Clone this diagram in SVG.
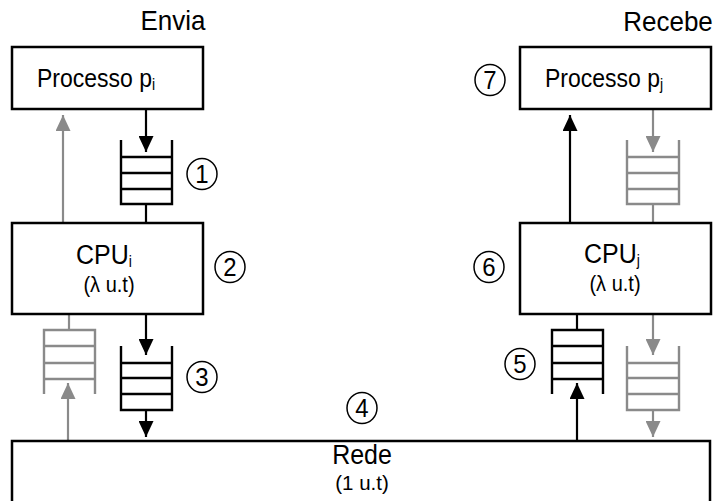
<svg xmlns="http://www.w3.org/2000/svg" width="716" height="501" viewBox="0 0 716 501">
  <style>
    .box { fill: #fff; stroke: #000; stroke-width: 2.5; }
    .lbl { font-family: "Liberation Sans", Arial, sans-serif; fill: #000; }
    .q { fill: none; stroke-width: 2.4; }
    .qk { stroke: #000; }
    .qg { stroke: #8a8a8a; }
    .ln { fill: none; stroke-width: 2.2; }
    .k { stroke: #000; }
    .g { stroke: #8a8a8a; }
    .num { fill: none; stroke: #000; stroke-width: 1.5; }
  </style>
  <defs>
    <marker id="ahK" viewBox="0 0 16 15" refX="16" refY="7.5" markerWidth="16" markerHeight="15" markerUnits="userSpaceOnUse" orient="auto">
      <path d="M0,0 L16,7.5 L0,15 z" fill="#000"/>
    </marker>
    <marker id="ahG" viewBox="0 0 16 15" refX="16" refY="7.5" markerWidth="16" markerHeight="15" markerUnits="userSpaceOnUse" orient="auto">
      <path d="M0,0 L16,7.5 L0,15 z" fill="#8a8a8a"/>
    </marker>
  </defs>

  <!-- headings -->
  <text class="lbl" transform="translate(173,30) scale(1,1.08)" font-size="26" text-anchor="middle">Envia</text>
  <text class="lbl" transform="translate(668,31) scale(1,1.08)" font-size="26" text-anchor="middle">Recebe</text>

  <!-- connectors -->
  <g id="connectors">
    <!-- sender side -->
    <line class="ln k" x1="146" y1="109" x2="146" y2="152" marker-end="url(#ahK)"/>
    <line class="ln k" x1="146" y1="204" x2="146" y2="223"/>
    <line class="ln g" x1="63" y1="223" x2="63" y2="115" marker-end="url(#ahG)"/>
    <line class="ln k" x1="146" y1="315" x2="146" y2="355" marker-end="url(#ahK)"/>
    <line class="ln k" x1="146" y1="410" x2="146" y2="437" marker-end="url(#ahK)"/>
    <line class="ln g" x1="69" y1="315" x2="69" y2="330"/>
    <line class="ln g" x1="68" y1="441" x2="68" y2="383" marker-end="url(#ahG)"/>
    <!-- receiver side -->
    <line class="ln k" x1="570" y1="223" x2="570" y2="115" marker-end="url(#ahK)"/>
    <line class="ln g" x1="653" y1="109" x2="653" y2="152" marker-end="url(#ahG)"/>
    <line class="ln g" x1="653" y1="204" x2="653" y2="223"/>
    <line class="ln k" x1="577" y1="315" x2="577" y2="330"/>
    <line class="ln k" x1="577" y1="441" x2="577" y2="383" marker-end="url(#ahK)"/>
    <line class="ln g" x1="653" y1="315" x2="653" y2="355" marker-end="url(#ahG)"/>
    <line class="ln g" x1="653" y1="410" x2="653" y2="437" marker-end="url(#ahG)"/>
  </g>

  <!-- process nodes -->
  <g id="proc-i">
    <rect class="box" x="12" y="47" width="191" height="62"/>
    <text class="lbl" transform="translate(37,87) scale(1,1.12)" font-size="23">Processo p<tspan font-size="14" dy="3">i</tspan></text>
  </g>
  <g id="proc-j">
    <rect class="box" x="520" y="47" width="191" height="62"/>
    <text class="lbl" transform="translate(545,87) scale(1,1.12)" font-size="23">Processo p<tspan font-size="14" dy="3">j</tspan></text>
  </g>

  <!-- CPU nodes -->
  <g id="cpu-i">
    <rect class="box" x="12" y="223" width="191" height="91"/>
    <text class="lbl" transform="translate(76,264) scale(1,1.12)" font-size="25">CPU<tspan font-size="14" dy="3">i</tspan></text>
    <text class="lbl" transform="translate(109,292) scale(1,1.1)" font-size="20" text-anchor="middle">(λ u.t)</text>
  </g>
  <g id="cpu-j">
    <rect class="box" x="520" y="223" width="191" height="91"/>
    <text class="lbl" transform="translate(584,263) scale(1,1.12)" font-size="25">CPU<tspan font-size="14" dy="3">j</tspan></text>
    <text class="lbl" transform="translate(615,291) scale(1,1.1)" font-size="20" text-anchor="middle">(λ u.t)</text>
  </g>

  <!-- network -->
  <g id="rede">
    <rect class="box" x="12" y="441" width="698" height="80"/>
    <text class="lbl" transform="translate(362,464) scale(1,1.1)" font-size="25" text-anchor="middle">Rede</text>
    <text class="lbl" x="362" y="490" font-size="20.5" text-anchor="middle">(1 u.t)</text>
  </g>

  <!-- queues: open end faces incoming arrow -->
  <g id="queue-send-app" class="q qk">
    <path d="M121,140 V204 H172 V140 M121,157 H172 M121,173 H172 M121,189 H172"/>
  </g>
  <g id="queue-send-net" class="q qk">
    <path d="M121,346 V410 H172 V346 M121,363 H172 M121,378 H172 M121,394 H172"/>
  </g>
  <g id="queue-recv-in" class="q qg">
    <path d="M44,394 V330 H95 V394 M44,346 H95 M44,363 H95 M44,379 H95"/>
  </g>
  <g id="queue-recv-net" class="q qk">
    <path d="M552,394 V330 H603 V394 M552,346 H603 M552,363 H603 M552,379 H603"/>
  </g>
  <g id="queue-recv-app" class="q qg">
    <path d="M627,140 V204 H679 V140 M627,157 H679 M627,173 H679 M627,189 H679"/>
  </g>
  <g id="queue-send-out" class="q qg">
    <path d="M627,346 V410 H679 V346 M627,363 H679 M627,378 H679 M627,394 H679"/>
  </g>

  <!-- step markers -->
  <g id="step-1"><ellipse class="num" cx="202" cy="174" rx="15" ry="15.5"/><text class="lbl" transform="translate(202,183) scale(1,1.1)" font-size="24" text-anchor="middle">1</text></g>
  <g id="step-2"><ellipse class="num" cx="230" cy="267" rx="15" ry="15.5"/><text class="lbl" transform="translate(230,276) scale(1,1.1)" font-size="24" text-anchor="middle">2</text></g>
  <g id="step-3"><ellipse class="num" cx="202" cy="377" rx="15" ry="15.5"/><text class="lbl" transform="translate(202,386) scale(1,1.1)" font-size="24" text-anchor="middle">3</text></g>
  <g id="step-4"><ellipse class="num" cx="362" cy="408" rx="15" ry="15.5"/><text class="lbl" transform="translate(362,417) scale(1,1.1)" font-size="24" text-anchor="middle">4</text></g>
  <g id="step-5"><ellipse class="num" cx="520" cy="364" rx="15" ry="15.5"/><text class="lbl" transform="translate(520,373) scale(1,1.1)" font-size="24" text-anchor="middle">5</text></g>
  <g id="step-6"><ellipse class="num" cx="489" cy="267" rx="15" ry="15.5"/><text class="lbl" transform="translate(489,276) scale(1,1.1)" font-size="24" text-anchor="middle">6</text></g>
  <g id="step-7"><ellipse class="num" cx="490" cy="80" rx="15" ry="15.5"/><text class="lbl" transform="translate(490,89) scale(1,1.1)" font-size="24" text-anchor="middle">7</text></g>
</svg>
